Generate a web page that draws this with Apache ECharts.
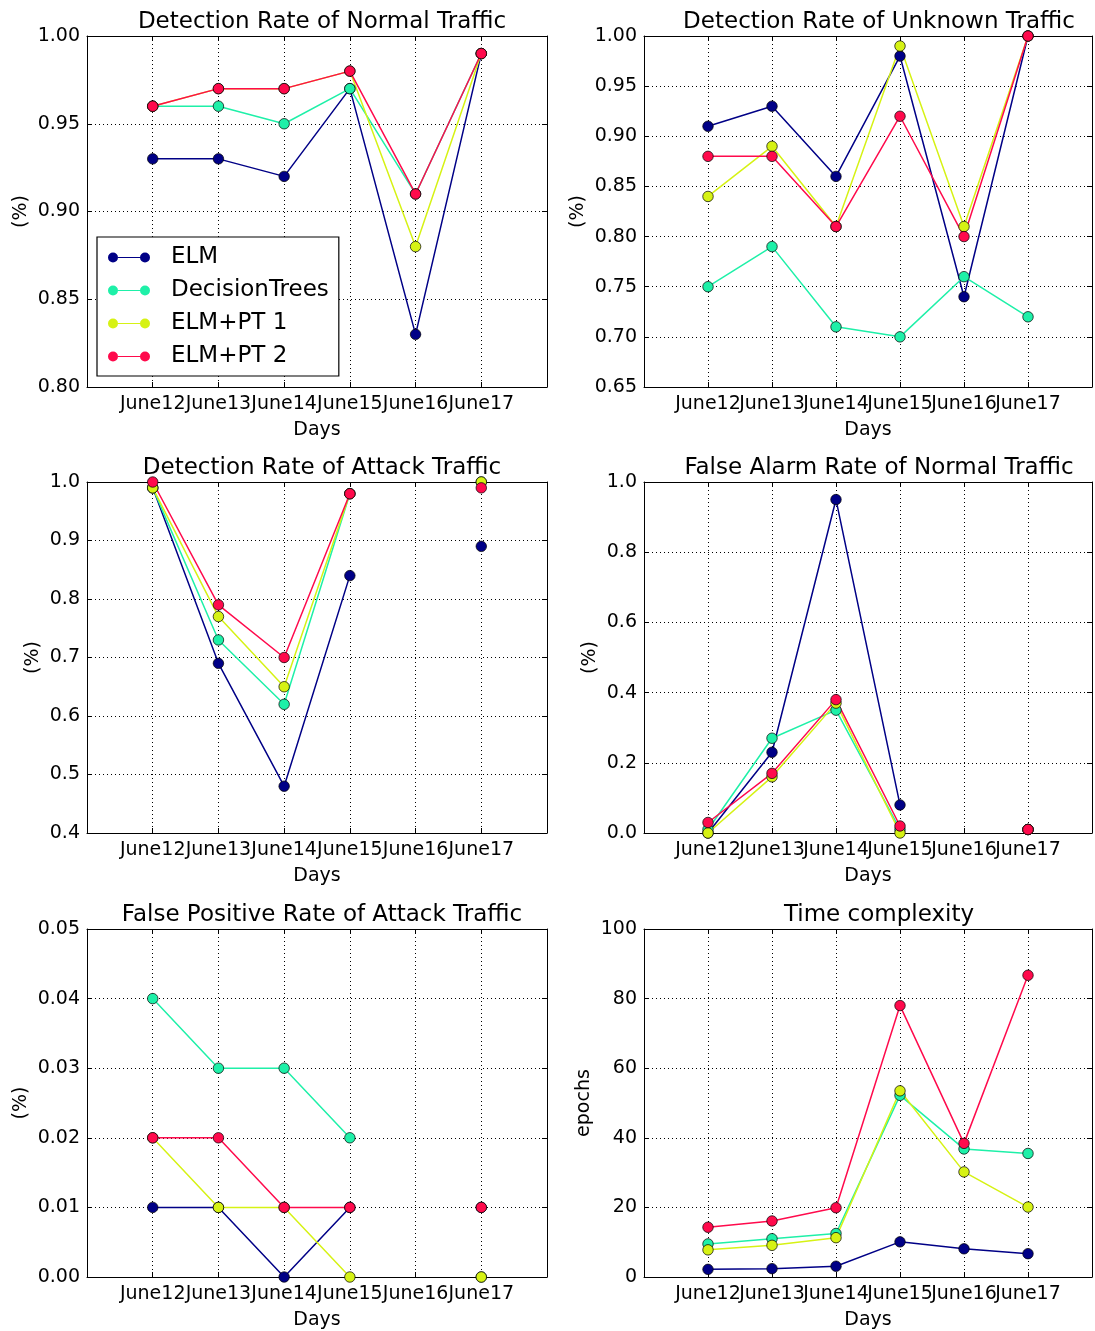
<!DOCTYPE html>
<html>
<head>
<meta charset="utf-8">
<script src="https://cdn.jsdelivr.net/npm/echarts@6/dist/echarts.min.js"></script>
<style>
  html, body { margin: 0; padding: 0; background: #fff; }
  #chart { width: 1095px; height: 1331px; }
</style>
</head>
<body>
<div id="chart"></div>
<script>
// x categories and legend names
const days = ['June12', 'June13', 'June14', 'June15', 'June16', 'June17'];
const methods = ['ELM', 'DecisionTrees', 'ELM+PT 1', 'ELM+PT 2'];

// Detection Rate of Normal Traffic
const normalElm = [0.93, 0.93, 0.92, 0.97, 0.83, 0.99];
const normalDt  = [0.96, 0.96, 0.95, 0.97, 0.91, 0.99];
const normalPt1 = [0.96, 0.97, 0.97, 0.98, 0.88, 0.99];
const normalPt2 = [0.96, 0.97, 0.97, 0.98, 0.91, 0.99];

// Detection Rate of Unknown Traffic
const unknownElm = [0.91, 0.93, 0.86, 0.98, 0.74, 1.00];
const unknownDt  = [0.75, 0.79, 0.71, 0.70, 0.76, 0.72];
const unknownPt1 = [0.84, 0.89, 0.81, 0.99, 0.81, 1.00];
const unknownPt2 = [0.88, 0.88, 0.81, 0.92, 0.80, 1.00];

// Detection Rate of Attack Traffic (no value for June16)
const attackElm = [0.99, 0.69, 0.48, 0.84, null, 0.89];
const attackDt  = [0.99, 0.73, 0.62, 0.98, null, 1.00];
const attackPt1 = [0.99, 0.77, 0.65, 0.98, null, 1.00];
const attackPt2 = [1.00, 0.79, 0.70, 0.98, null, 0.99];

// False Alarm Rate of Normal Traffic
const alarmElm = [0.00, 0.23, 0.95, 0.08, null, 0.01];
const alarmDt  = [0.01, 0.27, 0.35, 0.01, null, 0.01];
const alarmPt1 = [0.00, 0.16, 0.37, 0.00, null, 0.01];
const alarmPt2 = [0.03, 0.17, 0.38, 0.02, null, 0.01];

// False Positive Rate of Attack Traffic
const fpElm = [0.01, 0.01, 0.00, 0.01, null, 0.01];
const fpDt  = [0.04, 0.03, 0.03, 0.02, null, 0.00];
const fpPt1 = [0.02, 0.01, 0.01, 0.00, null, 0.00];
const fpPt2 = [0.02, 0.02, 0.01, 0.01, null, 0.01];

// Time complexity (epochs)
const timeElm = [2.2, 2.4, 3.1, 10.1, 8.1, 6.7];
const timeDt  = [9.5, 11.0, 12.5, 52.2, 36.8, 35.5];
const timePt1 = [7.8, 9.1, 11.3, 53.5, 30.2, 20.1];
const timePt2 = [14.3, 16.1, 19.9, 78.0, 38.4, 86.7];

const colors = ['#000086', '#1ef0a8', '#d6f214', '#ff0a4c'];
const font = 'DejaVu Sans';

const panels = [
  { title: 'Detection Rate of Normal Traffic', yName: '(%)', min: 0.8, max: 1.0, step: 0.05, dec: 2,
    series: [normalElm, normalDt, normalPt1, normalPt2], left: 87, top: 36, nameGap: 56 },
  { title: 'Detection Rate of Unknown Traffic', yName: '(%)', min: 0.65, max: 1.0, step: 0.05, dec: 2,
    series: [unknownElm, unknownDt, unknownPt1, unknownPt2], left: 644, top: 36, nameGap: 56 },
  { title: 'Detection Rate of Attack Traffic', yName: '(%)', min: 0.4, max: 1.0, step: 0.1, dec: 1,
    series: [attackElm, attackDt, attackPt1, attackPt2], left: 87, top: 482, nameGap: 44 },
  { title: 'False Alarm Rate of Normal Traffic', yName: '(%)', min: 0, max: 1.0, step: 0.2, dec: 1,
    series: [alarmElm, alarmDt, alarmPt1, alarmPt2], left: 644, top: 482, nameGap: 44 },
  { title: 'False Positive Rate of Attack Traffic', yName: '(%)', min: 0, max: 0.05, step: 0.01, dec: 2,
    series: [fpElm, fpDt, fpPt1, fpPt2], left: 87, top: 929, nameGap: 56 },
  { title: 'Time complexity', yName: 'epochs', min: 0, max: 100, step: 20, dec: 0,
    series: [timeElm, timeDt, timePt1, timePt2], left: 644, top: 929, nameGap: 50 }
];

const W = 460, H = 351;
const black = { color: '#000', width: 1 };
const dotted = { color: '#000', width: 1, type: [1, 3] };

const grid = [], xAxis = [], yAxis = [], title = [], series = [];

panels.forEach((p, k) => {
  grid.push({ left: p.left, top: p.top, width: W, height: H });
  title.push({
    text: p.title, left: p.left + W / 2, top: p.top - 30, textAlign: 'center',
    textStyle: { fontSize: 23, fontWeight: 'normal', color: '#000', fontFamily: font }
  });
  // bottom + top x axes (matplotlib style frame with inside ticks)
  xAxis.push({
    gridIndex: k, type: 'value', min: -1, max: 6, interval: 1, position: 'bottom',
    axisLine: { onZero: false, lineStyle: black },
    axisTick: { inside: true, length: 5, lineStyle: black },
    axisLabel: { margin: 8, fontSize: 19, color: '#000', fontFamily: font,
                 formatter: v => days[v] || '' },
    splitLine: { show: true, lineStyle: dotted },
    name: 'Days', nameLocation: 'middle', nameGap: 34,
    nameTextStyle: { fontSize: 19, color: '#000', fontFamily: font }
  });
  xAxis.push({
    gridIndex: k, type: 'value', min: -1, max: 6, interval: 1, position: 'top',
    axisLine: { onZero: false, lineStyle: black },
    axisTick: { inside: true, length: 5, lineStyle: black },
    axisLabel: { show: false }, splitLine: { show: false }
  });
  yAxis.push({
    gridIndex: k, type: 'value', min: p.min, max: p.max, interval: p.step, position: 'left',
    axisLine: { show: true, onZero: false, lineStyle: black },
    axisTick: { show: true, inside: true, length: 5, lineStyle: black },
    axisLabel: { margin: 7, fontSize: 19, color: '#000', fontFamily: font,
                 formatter: v => v.toFixed(p.dec) },
    splitLine: { show: true, lineStyle: dotted },
    name: p.yName, nameLocation: 'middle', nameGap: p.nameGap,
    nameTextStyle: { fontSize: 19, color: '#000', fontFamily: font }
  });
  yAxis.push({
    gridIndex: k, type: 'value', min: p.min, max: p.max, interval: p.step, position: 'right',
    axisLine: { show: true, onZero: false, lineStyle: black },
    axisTick: { show: true, inside: true, length: 5, lineStyle: black },
    axisLabel: { show: false }, splitLine: { show: false }
  });

  p.series.forEach((vals, i) => {
    series.push({
      type: 'line', name: methods[i],
      xAxisIndex: 2 * k, yAxisIndex: 2 * k,
      data: days.map((d, j) => [j, vals[j] == null ? '-' : vals[j]]),
      symbol: 'circle', symbolSize: 10.5, showSymbol: true, showAllSymbol: true,
      connectNulls: false,
      color: colors[i],
      lineStyle: { width: 1.5, color: colors[i] },
      itemStyle: { color: colors[i], borderColor: '#000', borderWidth: 0.7 },
      emphasis: { disabled: true }
    });
  });
});

const chart = echarts.init(document.getElementById('chart'));
chart.setOption({
  animation: false,
  backgroundColor: '#fff',
  title: title,
  grid: grid,
  xAxis: xAxis,
  yAxis: yAxis,
  legend: {
    data: methods, orient: 'vertical', left: 97, top: 237,
    icon: 'path://M0,5A5,5 0 1,0 10,5A5,5 0 1,0 0,5ZM10,4.4L32,4.4L32,5.6L10,5.6ZM32,5A5,5 0 1,0 42,5A5,5 0 1,0 32,5Z',
    itemWidth: 42, itemHeight: 10, itemGap: 10,
    padding: [9, 10, 8, 11],
    borderColor: '#000', borderWidth: 1.2, borderRadius: 0, backgroundColor: '#fff',
    itemStyle: { borderWidth: 0 },
    textStyle: { fontSize: 23, color: '#000', fontFamily: font, padding: [0, 0, 0, 16] },
    selectedMode: false
  },
  series: series
});
</script>
</body>
</html>
